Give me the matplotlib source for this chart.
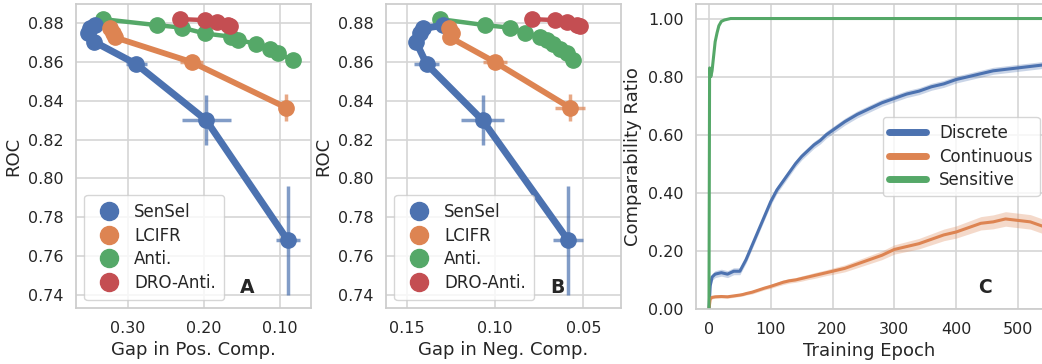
import matplotlib
matplotlib.use('Agg')
import seaborn as sns
from matplotlib import pyplot as plt
from matplotlib.lines import Line2D

sns.set_theme(style='whitegrid')
plt.rcParams['font.family'] = ['DejaVu Sans']

# colores (seaborn deep)
azul, naranja, verde, rojo = '#4C72B0', '#DD8452', '#55A868', '#C44E52'

# ---- Paneles A y B ----
metodos = ['SenSel', 'LCIFR', 'Anti.', 'DRO-Anti.']

sensel_roc = [0.768, 0.830, 0.859, 0.8705, 0.8748, 0.8774, 0.879]
sensel_roc_err = [0.028, 0.013, 0.002, 0.002, 0.002, 0.002, 0.002]
sensel_pos = [0.090, 0.197, 0.289, 0.344, 0.352, 0.349, 0.343]
sensel_pos_err = [0.016, 0.032, 0.014, 0.004, 0.004, 0.004, 0.004]
sensel_neg = [0.0585, 0.107, 0.1387, 0.1447, 0.1425, 0.1406, 0.1293]
sensel_neg_err = [0.0085, 0.012, 0.007, 0.002, 0.002, 0.002, 0.003]

lcifr_roc = [0.8365, 0.860, 0.8728, 0.8748, 0.8774]
lcifr_roc_err = [0.007, 0.002, 0.002, 0.002, 0.002]
lcifr_pos = [0.092, 0.216, 0.317, 0.320, 0.323]
lcifr_pos_err = [0.006, 0.015, 0.003, 0.003, 0.003]
lcifr_neg = [0.0575, 0.100, 0.1255, 0.1245, 0.1258]
lcifr_neg_err = [0.0085, 0.0066, 0.002, 0.002, 0.002]

anti_roc = [0.8822, 0.8791, 0.8778, 0.8748, 0.8731, 0.8714, 0.8695, 0.8667, 0.8645, 0.8611]
anti_pos = [0.333, 0.262, 0.229, 0.199, 0.164, 0.155, 0.132, 0.113, 0.103, 0.083]
anti_neg = [0.1311, 0.1057, 0.0915, 0.083, 0.0745, 0.0707, 0.067, 0.0632, 0.0594, 0.0557]

dro_roc = [0.8822, 0.8817, 0.8805, 0.8791, 0.8788]
dro_pos = [0.231, 0.199, 0.183, 0.168, 0.166]
dro_neg = [0.0792, 0.066, 0.0594, 0.0537, 0.0519]

# ---- Panel C ----
epocas = [0, 2, 5, 10, 20, 30, 40, 50, 55, 60, 70, 80, 90, 100, 110, 120, 130, 140,
          150, 160, 170, 180, 190, 200, 220, 240, 260, 280, 300, 320, 340, 360, 380,
          400, 420, 440, 460, 480, 500, 520, 540]
discreto = [0, 0.08, 0.11, 0.12, 0.125, 0.12, 0.13, 0.13, 0.15, 0.17, 0.22, 0.27,
            0.32, 0.37, 0.41, 0.44, 0.47, 0.50, 0.525, 0.545, 0.565, 0.58, 0.60,
            0.615, 0.645, 0.67, 0.69, 0.71, 0.725, 0.74, 0.75, 0.765, 0.775, 0.79,
            0.80, 0.81, 0.82, 0.825, 0.83, 0.835, 0.84]
continuo = [0, 0.035, 0.04, 0.042, 0.043, 0.042, 0.045, 0.048, 0.05, 0.053, 0.058,
            0.065, 0.072, 0.078, 0.085, 0.092, 0.097, 0.10, 0.105, 0.11, 0.115, 0.12,
            0.125, 0.13, 0.14, 0.155, 0.17, 0.185, 0.205, 0.215, 0.225, 0.24, 0.255,
            0.265, 0.28, 0.295, 0.30, 0.31, 0.305, 0.30, 0.285]
continuo_err = [0, 0.005, 0.005, 0.005, 0.005, 0.005, 0.005, 0.005, 0.005, 0.005,
                0.006, 0.006, 0.006, 0.007, 0.007, 0.008, 0.008, 0.008, 0.009, 0.009,
                0.01, 0.01, 0.01, 0.011, 0.012, 0.013, 0.014, 0.015, 0.016, 0.017,
                0.018, 0.019, 0.02, 0.021, 0.022, 0.023, 0.024, 0.025, 0.025, 0.025, 0.025]
epocas_sens = [0, 1, 3, 5, 8, 10, 13, 16, 20, 25, 35, 50, 100, 200, 300, 400, 500, 540]
sensible = [0, 0.83, 0.80, 0.82, 0.88, 0.92, 0.95, 0.975, 0.99, 0.995, 1.0, 1.0,
            1.0, 1.0, 1.0, 1.0, 1.0, 1.0]

fig = plt.figure(figsize=(10.42, 3.64), dpi=100)
W, H = 1042.0, 364.0
gris = '#262626'


def caja(x0, x1, y0, y1):
    return [x0 / W, 1 - y1 / H, (x1 - x0) / W, (y1 - y0) / H]


def estilo(ax):
    for s in ax.spines.values():
        s.set_color('#cccccc')
    ax.grid(True, color='#d5d5d5', linewidth=1.2)
    ax.tick_params(labelsize=11.5, colors=gris, pad=3)


def panel(ax, sensel_x, sensel_xe, lcifr_x, lcifr_xe, anti_x, dro_x):
    eb = ax.errorbar(sensel_x, sensel_roc, xerr=sensel_xe, yerr=sensel_roc_err,
                     color=azul, lw=5, marker='o', ms=11, elinewidth=2.5)
    for b in eb[2]:
        b.set_alpha(0.7)
    eb = ax.errorbar(lcifr_x, lcifr_roc, xerr=lcifr_xe, yerr=lcifr_roc_err,
                     color=naranja, lw=4.2, marker='o', ms=11, elinewidth=2.5)
    for b in eb[2]:
        b.set_alpha(0.7)
    ax.plot(anti_x, anti_roc, color=verde, lw=3.2, marker='o', ms=11)
    ax.plot(dro_x, dro_roc, color=rojo, lw=3.2, marker='o', ms=11)
    ax.set_ylim(0.733, 0.890)
    ax.set_yticks([0.74, 0.76, 0.78, 0.80, 0.82, 0.84, 0.86, 0.88])
    ax.yaxis.set_major_formatter(plt.FormatStrFormatter('%.2f'))
    ax.xaxis.set_major_formatter(plt.FormatStrFormatter('%.2f'))
    ax.set_ylabel('ROC', fontsize=13, color=gris)
    handles = [Line2D([], [], color=c, marker='o', ls='none', ms=13)
               for c in [azul, naranja, verde, rojo]]
    ax.legend(handles, metodos, loc='lower left', fontsize=12, handletextpad=0.5,
              borderpad=0.5, labelspacing=0.33, frameon=True, edgecolor='#cccccc')
    estilo(ax)


# Panel A
axA = fig.add_axes(caja(76, 310.7, 4, 308.3))
panel(axA, sensel_pos, sensel_pos_err, lcifr_pos, lcifr_pos_err, anti_pos, dro_pos)
axA.set_xlim(0.368, 0.060)
axA.set_xticks([0.30, 0.20, 0.10])
axA.set_xlabel('Gap in Pos. Comp.', fontsize=13, color=gris)
axA.text(0.73, 0.067, 'A', transform=axA.transAxes, fontsize=13.5, fontweight='bold',
         ha='center', va='center', color=gris)

# Panel B
axB = fig.add_axes(caja(386, 620.7, 4, 308.3))
panel(axB, sensel_neg, sensel_neg_err, lcifr_neg, lcifr_neg_err, anti_neg, dro_neg)
axB.set_xlim(0.1617, 0.0288)
axB.set_xticks([0.15, 0.10, 0.05])
axB.set_xlabel('Gap in Neg. Comp.', fontsize=13, color=gris)
axB.text(0.73, 0.067, 'B', transform=axB.transAxes, fontsize=13.5, fontweight='bold',
         ha='center', va='center', color=gris)

# Panel C
axC = fig.add_axes(caja(696, 1042, 4, 309))
axC.fill_between(epocas, [d - 0.012 for d in discreto], [d + 0.012 for d in discreto],
                 color=azul, alpha=0.3, lw=0)
axC.fill_between(epocas, [c - e for c, e in zip(continuo, continuo_err)],
                 [c + e for c, e in zip(continuo, continuo_err)],
                 color=naranja, alpha=0.3, lw=0)
axC.plot(epocas, discreto, color=azul, lw=2.2)
axC.plot(epocas, continuo, color=naranja, lw=2.2)
axC.plot(epocas_sens, sensible, color=verde, lw=2.2)
axC.set_xlim(-21, 539)
axC.set_ylim(0, 1.05)
axC.set_xticks([0, 100, 200, 300, 400, 500])
axC.set_yticks([0, 0.2, 0.4, 0.6, 0.8, 1.0])
axC.yaxis.set_major_formatter(plt.FormatStrFormatter('%.2f'))
axC.set_xlabel('Training Epoch', fontsize=13, color=gris)
axC.set_ylabel('Comparability Ratio', fontsize=13, color=gris)
manejadores = [Line2D([], [], color=c, lw=5) for c in [azul, naranja, verde]]
axC.legend(manejadores, ['Discrete', 'Continuous', 'Sensitive'], loc='center right',
           fontsize=12, handlelength=2.2, labelspacing=0.35, borderaxespad=0.15,
           edgecolor='#cccccc')
estilo(axC)
axC.spines['right'].set_visible(False)
axC.text(0.835, 0.071, 'C', transform=axC.transAxes, fontsize=13.5, fontweight='bold',
         ha='center', va='center', color=gris)

fig.savefig('out.png', dpi=100)
